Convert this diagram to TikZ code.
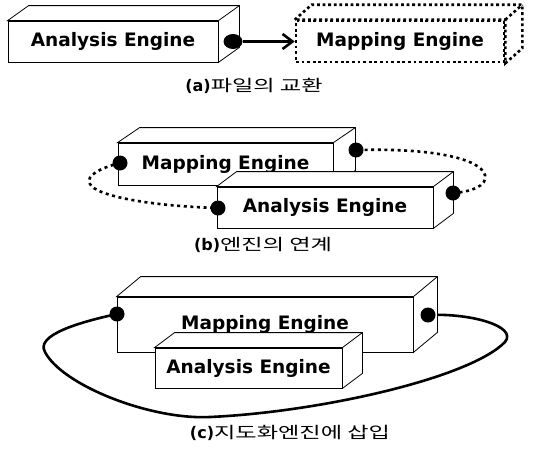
\documentclass[tikz,border=0pt]{standalone}
\usepackage{fontspec}
\usepackage{graphicx}
\newfontfamily\labelfont{DejaVu Sans}
\newfontfamily\kofont{Noto Sans CJK KR}
\usetikzlibrary{arrows.meta,calc,shapes.geometric}

% right and top faces of a box whose front face is node #1, depth (#2,#3)
\newcommand\boxsides[4]{%
  \filldraw[#4] (#1.north west) -- ++(#2,-#3) -- ($(#1.north east)+(#2,-#3)$)
    -- ($(#1.south east)+(#2,-#3)$) -- (#1.south east) -- (#1.north east) -- cycle;
  \draw[#4] (#1.north east) -- ++(#2,-#3);}
\newcommand\capt[2]{{\labelfont\bfseries #1}\scalebox{1.45}[1]{\kofont #2}}

\tikzset{
  face/.style={draw=black, line width=0.8pt, fill=white},
  front/.style={face, inner sep=0pt, anchor=center,
    font=\labelfont\bfseries\fontsize{18.5}{21}\selectfont},
  ghostface/.style={draw=black, line width=2.6pt, dash pattern=on 2.8pt off 2.8pt, fill=white},
  ghost/.style={ghostface, inner sep=0pt,
    font=\labelfont\bfseries\fontsize{18.5}{21}\selectfont},
  port/.style={circle, fill=black, inner sep=0pt, minimum size=15pt},
  link/.style={line width=2.6pt, dash pattern=on 3pt off 3.6pt},
  ring/.style={line width=2.6pt},
  caption/.style={font=\fontsize{16}{18}\selectfont, inner sep=0pt}
}

\begin{document}
\begin{tikzpicture}[x=1pt, y=-1pt]
\useasboundingbox (0,0) rectangle (540,450);
\fill[white] (0,0) rectangle (540,450);

% (a) file exchange
\node[front, minimum width=210pt, minimum height=41pt] (ae1) at (113,41.5) {Analysis Engine};
\boxsides{ae1}{21}{15}{face}
\node[ghost, minimum width=208pt, minimum height=41pt] (me1) at (400,41.5) {Mapping Engine};
\boxsides{me1}{17}{15}{ghostface}
\node[port, ellipse, minimum width=19pt, minimum height=15pt] (pa) at (233,41.5) {};
\draw[line width=3pt, -{Straight Barb[length=10pt, width=15pt, line width=2.6pt]}] (pa) -- (me1.west);
\node[caption] (ca) at (254,86) {\capt{(a)}{파일의 교환}};

% (b) linked engines
\draw[link] (120,163) .. controls (100,168) and (85,176) .. (90,184)
  .. controls (96,196) and (150,206) .. (218,208);
\draw[link] (358,150) .. controls (430,148) and (480,158) .. (485,175)
  .. controls (488,186) and (470,192) .. (453,193);
\node[front, minimum width=215pt, minimum height=42pt] (me2) at (225.5,164) {Mapping Engine};
\boxsides{me2}{22}{15}{face}
\node[front, minimum width=216pt, minimum height=41pt] (ae2) at (325,207.5) {Analysis Engine};
\boxsides{ae2}{20}{15}{face}
\node[port] (pb1) at (120,163) {};
\node[port] (pb2) at (356,150) {};
\node[port] (pb3) at (218,208) {};
\node[port] (pb4) at (453,193) {};
\node[caption] (cb) at (263,245) {\capt{(b)}{엔진의 연계}};

% (c) insertion into the mapping engine
\draw[ring] (117,314) .. controls (80,322) and (35,335) .. (45,352)
  .. controls (62,385) and (150,420) .. (210,417)
  .. controls (320,412) and (470,378) .. (505,342)
  .. controls (518,326) and (470,313) .. (428,315);
\node[front, minimum width=296pt, minimum height=55pt] (me3) at (265,324.5) {Mapping Engine};
\boxsides{me3}{24}{20}{face}
\node[front, minimum width=187pt, minimum height=40pt] (ae3) at (248.5,368) {Analysis Engine};
\boxsides{ae3}{20}{15}{face}
\node[port] (pc1) at (117,314) {};
\node[port] (pc2) at (428,315) {};
\node[caption] (cc) at (290,433) {\capt{(c)}{지도화엔진에 삽입}};
\end{tikzpicture}
\end{document}
